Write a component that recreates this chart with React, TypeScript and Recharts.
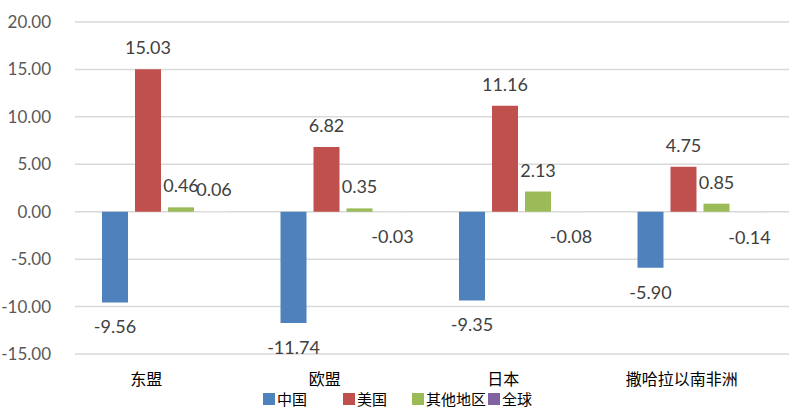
import { BarChart, Bar, XAxis, YAxis, CartesianGrid, Legend, LabelList } from "recharts";

const regions = ["东盟", "欧盟", "日本", "撒哈拉以南非洲"];
const china = [-9.56, -11.74, -9.35, -5.9];
const usa = [15.03, 6.82, 11.16, 4.75];
const others = [0.46, 0.35, 2.13, 0.85];
const world = [0.06, -0.03, -0.08, -0.14];
const yTicks = [-15, -10, -5, 0, 5, 10, 15, 20];

const seriesNames = ["中国", "美国", "其他地区", "全球"];

const data = regions.map((r, i) => ({
  region: r,
  china: china[i],
  usa: usa[i],
  others: others[i],
  world: world[i],
}));

const NUM_FONT = "Lato, 'Noto Sans CJK SC', sans-serif";
const CJK_FONT = "'Noto Sans CJK SC', sans-serif";

const legendItems = [
  { name: seriesNames[0], color: "#4F81BD", left: 263 },
  { name: seriesNames[1], color: "#C0504D", left: 343 },
  { name: seriesNames[2], color: "#9BBB59", left: 412 },
  { name: seriesNames[3], color: "#8064A2", left: 488 },
];

const ValueLabel = (props: any) => {
  const { x, y, width, height, value } = props;
  const top = Math.min(y, y + height);
  const bottom = Math.max(y, y + height);
  const cx = x + width / 2;
  const ty = value >= 0 ? top - 22 : bottom + 24;
  return (
    <text
      x={cx}
      y={ty}
      textAnchor="middle"
      dominantBaseline="central"
      fontSize={18}
      fontFamily={NUM_FONT}
      fill="#404040"
    >
      {Number(value).toFixed(2)}
    </text>
  );
};

const CategoryTick = ({ x, y, payload }: any) => (
  <text
    x={x - 18}
    y={y + 16}
    textAnchor="middle"
    dominantBaseline="central"
    fontSize={16}
    fontFamily={CJK_FONT}
    fill="#000"
  >
    {payload.value}
  </text>
);

const renderLegend = () => (
  <div style={{ position: "relative", width: 802, height: 25 }}>
    {legendItems.map((it) => (
      <div
        key={it.name}
        style={{
          position: "absolute",
          left: it.left,
          top: 4,
          display: "flex",
          alignItems: "center",
          fontFamily: CJK_FONT,
          fontSize: 15,
          color: "#000",
          whiteSpace: "nowrap",
        }}
      >
        <span style={{ width: 12, height: 12, background: it.color, marginRight: 2, display: "inline-block" }} />
        {it.name}
      </div>
    ))}
  </div>
);

export default function App() {
  return (
    <div style={{ position: "absolute", left: 0, top: 0, background: "#fff" }}>
      <BarChart
        width={802}
        height={414}
        data={data}
        margin={{ top: 22, right: 13, left: 0, bottom: 5 }}
        barSize={26}
        barGap={7}
      >
        <CartesianGrid vertical={false} stroke="#D9D9D9" strokeWidth={1.5} />
        <XAxis dataKey="region" axisLine={false} tickLine={false} height={30} tick={<CategoryTick />} interval={0} />
        <YAxis
          domain={[-15, 20]}
          ticks={yTicks}
          width={75}
          axisLine={false}
          tickLine={false}
          tickMargin={18}
          tickFormatter={(v: number) => v.toFixed(2)}
          tick={{ fontSize: 17, fontFamily: NUM_FONT, fill: "#595959" }}
        />
        <Legend verticalAlign="bottom" height={25} content={renderLegend} />
        <Bar dataKey="china" name={seriesNames[0]} fill="#4F81BD" isAnimationActive={false}>
          <LabelList dataKey="china" content={ValueLabel} />
        </Bar>
        <Bar dataKey="usa" name={seriesNames[1]} fill="#C0504D" isAnimationActive={false}>
          <LabelList dataKey="usa" content={ValueLabel} />
        </Bar>
        <Bar dataKey="others" name={seriesNames[2]} fill="#9BBB59" isAnimationActive={false}>
          <LabelList dataKey="others" content={ValueLabel} />
        </Bar>
        <Bar dataKey="world" name={seriesNames[3]} fill="#E4E4E4" isAnimationActive={false}>
          <LabelList dataKey="world" content={ValueLabel} />
        </Bar>
      </BarChart>
    </div>
  );
}
